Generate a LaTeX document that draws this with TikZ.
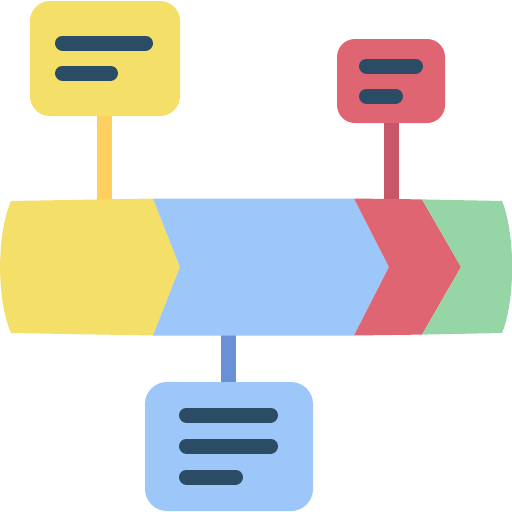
\documentclass[tikz,border=0pt]{standalone}
\usetikzlibrary{positioning}

\definecolor{ylw}{HTML}{F4DF69}
\definecolor{ylwstem}{HTML}{FFCF5F}
\definecolor{blu}{HTML}{9DC6F9}
\definecolor{blustem}{HTML}{6A90D8}
\definecolor{rd}{HTML}{DE6571}
\definecolor{rdstem}{HTML}{C8576A}
\definecolor{grn}{HTML}{96D5A6}
\definecolor{ink}{HTML}{2B4C65}

\begin{document}
\begin{tikzpicture}[x=1pt, y=-1pt,
  card/.style={rounded corners=20pt, inner sep=0pt, outer sep=0pt},
  bar/.style={line width=15pt, line cap=round, ink},
  stem/.style={line width=15pt}]
  \useasboundingbox (0,0) rectangle (512,512);

  % where the stems meet the band
  \coordinate (ytop) at (104,205);
  \coordinate (rtop) at (391,205);
  \coordinate (bbot) at (228.5,330);

  % the three notes
  \node[card, fill=ylw, minimum width=150pt, minimum height=115pt] (ynote) at (105,58.5) {};
  \node[card, fill=rd, minimum width=108pt, minimum height=84pt, rounded corners=18pt] (rnote) at (391,81) {};
  \node[card, fill=blu, minimum width=168pt, minimum height=129pt, rounded corners=22pt] (bnote) at (229,446.5) {};

  % stems
  \draw[stem, ylwstem] (ytop |- ynote.south) -- (ytop);
  \draw[stem, rdstem] (rtop |- rnote.south) -- (rtop);
  \draw[stem, blustem] (bbot |- bnote.north) -- (bbot);

  % band, chevron by chevron
  \fill[ylw] (11,201) -- (153,198.5) -- (180,267) -- (153,335.5) -- (11,333)
    .. controls (-3.5,300) and (-3.5,234) .. cycle;
  \fill[blu] (153,198.5) -- (354,198.5) -- (389,267) -- (354,335.5) -- (153,335.5) -- (180,267) -- cycle;
  \fill[rd] (354,198.5) -- (422,199.4) -- (461,267) -- (422,334.6) -- (354,335.5) -- (389,267) -- cycle;
  \fill[grn] (422,199.4) -- (502,201) .. controls (515.5,234) and (515.5,300) .. (502,333)
    -- (422,334.6) -- (461,267) -- cycle;

  % text lines
  \draw[bar] (62.5,43) -- (145.5,43);
  \draw[bar] (62.5,73) -- (110.5,73);
  \draw[bar] (366.5,66) -- (415.5,66);
  \draw[bar] (366.5,96) -- (395.5,96);
  \foreach \y/\e in {415/270.5, 446/270.5, 477/235.5}
    \draw[bar] (186.5,\y) -- (\e,\y);
\end{tikzpicture}
\end{document}
